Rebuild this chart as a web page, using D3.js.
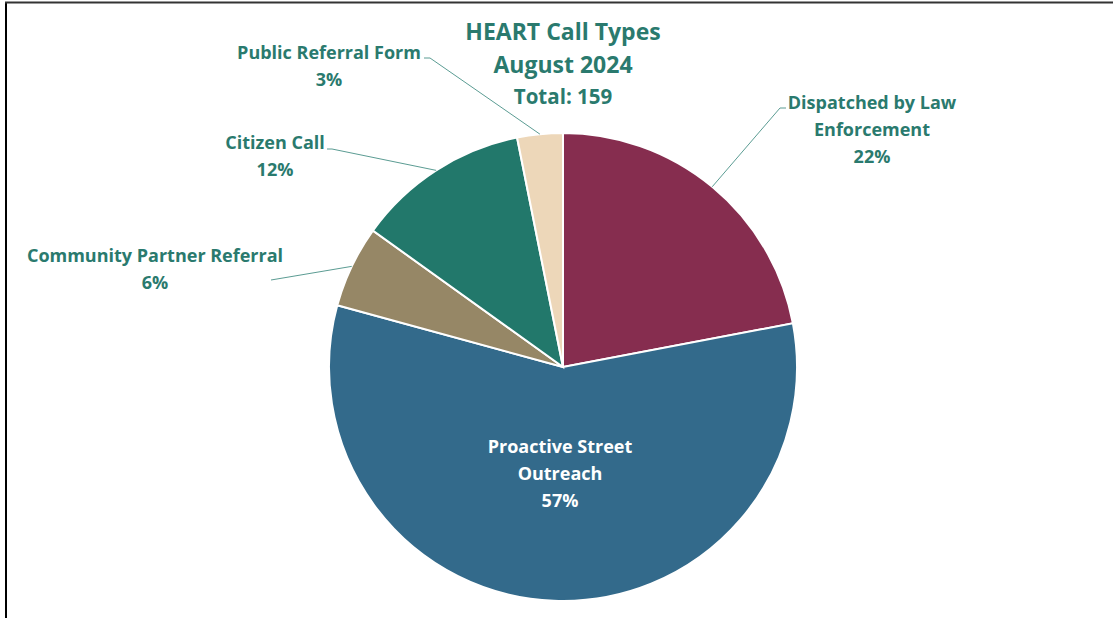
<!DOCTYPE html>
<html lang="en">
<head>
    <meta charset="UTF-8">
    <script src="https://cdn.jsdelivr.net/npm/d3@7"></script>
    <title>HEART Call Types</title>
    <style>
        body { margin: 0; background: #fff; }
        text {
            font-family: "Open Sans", Lato, sans-serif;
            font-weight: bold;
        }
    </style>
</head>
<body>
    <script>
        // data
        const categories = ["Dispatched by Law Enforcement", "Proactive Street Outreach", "Community Partner Referral", "Citizen Call", "Public Referral Form"]
        const counts = [35, 91, 9, 19, 5]
        const labelLines = [["Dispatched by Law", "Enforcement"], ["Proactive Street", "Outreach"], ["Community Partner Referral"], ["Citizen Call"], ["Public Referral Form"]]
        const colors = ["#862d4f", "#336a8b", "#968766", "#22786b", "#edd7b9"]
        const titleLines = ["HEART Call Types", "August 2024"]
        const total = d3.sum(counts)

        const width = 1113, height = 618
        const cx = 563, cy = 367, radius = 234
        const teal = "#2a7a6e"

        // label layout: x center, first baseline, leader elbow/end points
        const layout = {
            "Dispatched by Law Enforcement": {x: 872, y: 109, inside: false, leader: [[780, 108], [786, 108]]},
            "Proactive Street Outreach": {x: 560, y: 453, inside: true},
            "Community Partner Referral": {x: 155, y: 262, inside: false, leader: [[271, 280]]},
            "Citizen Call": {x: 275, y: 149, inside: false, leader: [[332, 149], [327, 149]]},
            "Public Referral Form": {x: 329, y: 59, inside: false, leader: [[430, 58], [424, 58]]}
        }

        const svg = d3.select("body").append("svg")
            .attr("width", width)
            .attr("height", height)

        // frame
        svg.append("line").attr("x1", 6).attr("x2", 6).attr("y1", 2).attr("y2", height)
            .attr("stroke", "#000").attr("stroke-width", 2)
        svg.append("line").attr("x1", 5).attr("x2", width).attr("y1", 2.5).attr("y2", 2.5)
            .attr("stroke", "#333").attr("stroke-width", 2)

        const data = categories.map((c, i) => ({name: c, value: counts[i], lines: labelLines[i], color: colors[i]}))

        const pie = d3.pie().sort(null).value(d => d.value)
        const arcs = pie(data)
        const arc = d3.arc().innerRadius(0).outerRadius(radius)
        const edge = d3.arc().innerRadius(radius).outerRadius(radius)

        const g = svg.append("g").attr("transform", `translate(${cx},${cy})`)
        g.selectAll("path")
            .data(arcs)
            .join("path")
            .attr("d", arc)
            .attr("fill", d => d.data.color)
            .attr("stroke", "#fff")
            .attr("stroke-width", 2)

        const pct = d => Math.round(d.value / total * 100) + "%"

        // leader lines
        const line = d3.line()
        svg.append("g").selectAll("path")
            .data(arcs.filter(d => !layout[d.data.name].inside))
            .join("path")
            .attr("d", d => {
                const c = edge.centroid(d)
                return line([[c[0] + cx, c[1] + cy]].concat(layout[d.data.name].leader))
            })
            .attr("fill", "none")
            .attr("stroke", "#5b9c93")
            .attr("stroke-width", 1)

        // labels
        const labels = svg.append("g").selectAll("text")
            .data(arcs)
            .join("text")
            .attr("text-anchor", "middle")
            .attr("font-size", "18px")
            .attr("fill", d => layout[d.data.name].inside ? "#fff" : teal)
            .attr("x", d => layout[d.data.name].x)
            .attr("y", d => layout[d.data.name].y)

        labels.selectAll("tspan")
            .data(d => d.data.lines.concat([pct(d.data)]).map(t => ({t, x: layout[d.data.name].x})))
            .join("tspan")
            .attr("x", d => d.x)
            .attr("dy", (d, i) => i === 0 ? 0 : 27)
            .text(d => d.t)

        // title
        const title = svg.append("text")
            .attr("text-anchor", "middle")
            .attr("fill", teal)
        title.selectAll("tspan")
            .data(titleLines.concat(["Total: " + total]))
            .join("tspan")
            .attr("x", cx)
            .attr("y", (d, i) => [40, 73, 104][i])
            .attr("font-size", (d, i) => i < 2 ? "23px" : "20.5px")
            .text(d => d)
    </script>
</body>
</html>
